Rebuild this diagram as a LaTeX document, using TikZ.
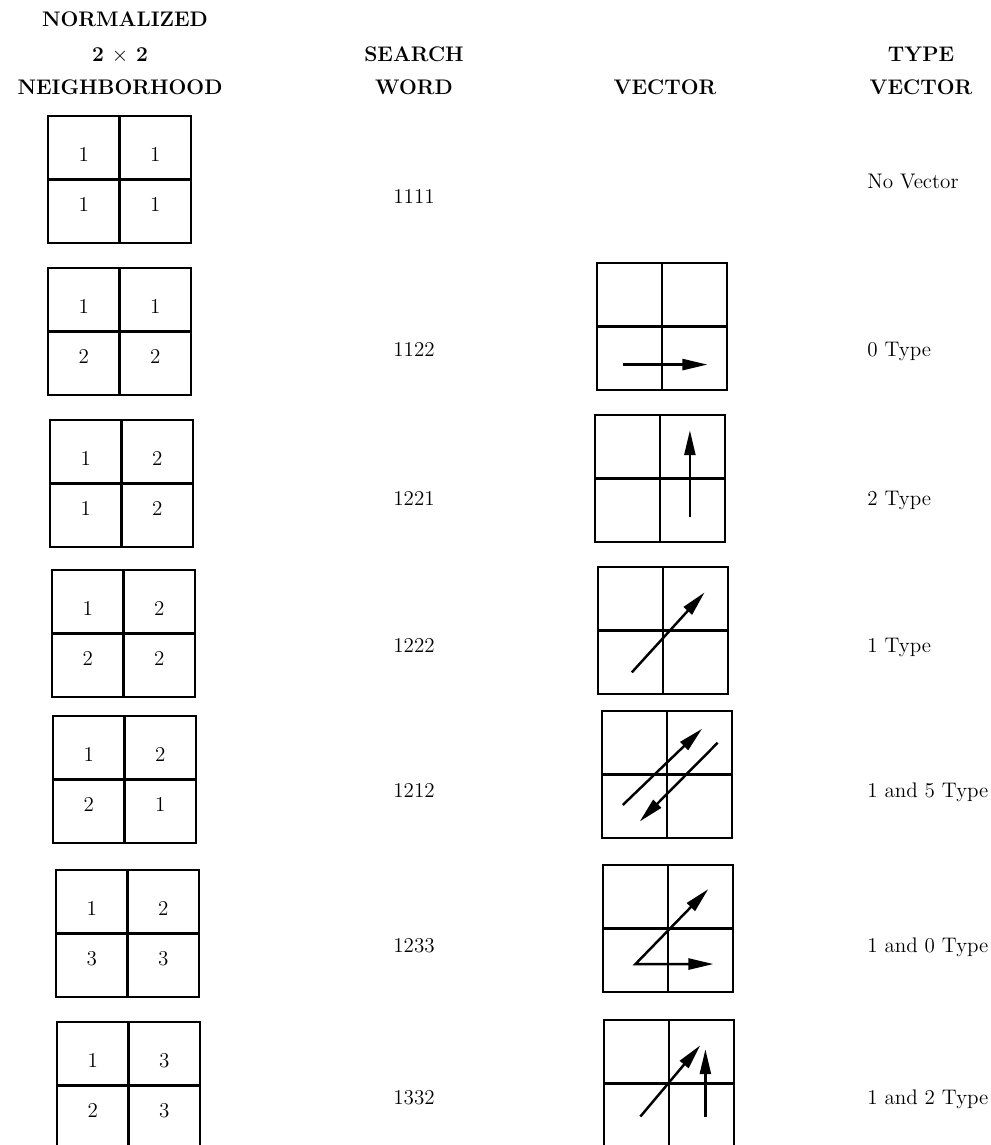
\documentclass[tikz,border=0pt]{standalone}
\usetikzlibrary{arrows.meta, positioning}

\begin{document}
\begin{tikzpicture}[
        x=0.02cm, y=-0.02cm,
        hdr/.style={font=\fontsize{12}{14}\selectfont\bfseries, inner sep=0pt, anchor=base},
        digit/.style={font=\fontsize{12}{14}\selectfont, inner sep=0pt},
        word/.style={font=\fontsize{12}{14}\selectfont, inner sep=0pt, anchor=base},
        typelabel/.style={font=\fontsize{12}{14}\selectfont, inner sep=0pt, anchor=base west},
        cell/.style={draw, line width=1.6pt, minimum width=1.43cm, minimum height=1.27cm,
                     inner sep=0pt, outer sep=0pt},
        box/.style={line width=1.6pt},
        vgrid/.style={shift={(#1)}, x=2.6cm, y=-2.54cm},
        vec/.style={-{Triangle[length=5mm, width=2.2mm]}, line width=1.4pt},
        vecboth/.style={{Triangle[length=5mm, width=2.2mm]}-{Triangle[length=5mm, width=2.2mm]},
                        line width=1.4pt},
    ]
        \useasboundingbox (0,0) rectangle (990,1145);

        % column heads
        \node[hdr] (hnorm) at (125,27) {NORMALIZED};
        \node[hdr] (hsize) at (120,62) {2 $\times$ 2};
        \node[hdr] (hnbhd) at (120,95) {NEIGHBORHOOD};
        \node[hdr] (hsearch) at (414,62) {SEARCH};
        \node[hdr] (hword) at (414,95) {WORD};
        \node[hdr] (hvec) at (665,95) {VECTOR};
        \node[hdr] (htype) at (921,62) {TYPE};
        \node[hdr] (htvec) at (921,95) {VECTOR};

        % normalized neighborhoods
        \foreach \i/\x/\y/\a/\b/\c/\d in {1/48/116/1/1/1/1, 2/48/268/1/1/2/2, 3/50/420/1/2/1/2,
                4/52/570/1/2/2/2, 5/53/716/1/2/2/1, 6/56/870/1/2/3/3, 7/57/1022/1/3/2/3} {
            \node[cell, anchor=north west] (n\i-tl) at (\x,\y) {};
            \node[cell, right=0pt of n\i-tl] (n\i-tr) {};
            \node[cell, below=0pt of n\i-tl] (n\i-bl) {};
            \node[cell, right=0pt of n\i-bl] (n\i-br) {};
            \node[digit] at ([yshift=-4pt]n\i-tl.center) {\a};
            \node[digit] at ([yshift=-4pt]n\i-tr.center) {\b};
            \node[digit] at ([yshift=4pt]n\i-bl.center) {\c};
            \node[digit] at ([yshift=4pt]n\i-br.center) {\d};
        }

        % search words and types
        \foreach \i/\yw/\yt/\w/\t in {1/204/189/1111/No Vector, 2/357/357/1122/0 Type,
                3/505/505/1221/2 Type, 4/652/652/1222/1 Type, 5/797/797/1212/1 and 5 Type,
                6/952/952/1233/1 and 0 Type, 7/1104/1104/1332/1 and 2 Type} {
            \node[word] (w\i) at (414,\yw) {\w};
            \node[typelabel] (t\i) at (867,\yt) {\t};
        }

        % vector grids
        \foreach \i/\x/\y in {2/597/263, 3/595/415, 4/598/567, 5/602/711, 6/603/865, 7/604/1020} {
            \coordinate (v\i) at (\x,\y);
            \draw[box] (v\i) rectangle ++(130,127)
                (\x+65,\y) -- ++(0,127) (\x,\y+63.5) -- ++(130,0);
        }

        \begin{scope}[vgrid=v2]
            \draw[vec] (0.2,0.8) -- (0.85,0.8);
        \end{scope}
        \begin{scope}[vgrid=v3]
            \draw[vec] (0.73,0.8) -- (0.73,0.12);
        \end{scope}
        \begin{scope}[vgrid=v4]
            \draw[vec] (0.26,0.83) -- (0.82,0.2);
        \end{scope}
        \begin{scope}[vgrid=v5]
            \draw[vec] (0.16,0.74) -- (0.77,0.14);
            \draw[vec] (0.89,0.25) -- (0.29,0.87);
        \end{scope}
        \begin{scope}[vgrid=v6]
            \draw[vecboth] (0.81,0.19) -- (0.25,0.78) -- (0.85,0.78);
        \end{scope}
        \begin{scope}[vgrid=v7]
            \draw[vec] (0.28,0.76) -- (0.74,0.2);
            \draw[vec] (0.78,0.76) -- (0.78,0.23);
        \end{scope}

    \end{tikzpicture}
\end{document}
